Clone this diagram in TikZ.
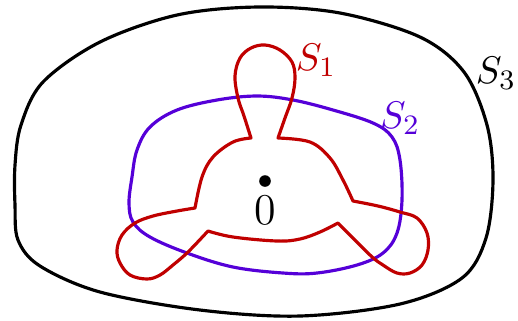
\documentclass[tikz,border=0pt]{standalone}
\usepackage{tikz}
\usetikzlibrary{positioning}
\definecolor{rojocurva}{HTML}{C00000}
\definecolor{azulcurva}{HTML}{5500D8}
\tikzset{
  curva/.style={line width=0.9pt, line join=round},
  etiq/.style={inner sep=1pt, font=\fontsize{11}{13}\selectfont},
  punto/.style={circle, fill=black, inner sep=0pt, minimum size=3.3pt},
}

\begin{document}
\begin{tikzpicture}[x=0.01cm, y=-0.01cm]
    \useasboundingbox (0,0) rectangle (518,320);
    % S3
    \draw[curva, black] plot[smooth cycle, tension=0.55] coordinates {
      (15,205) (15,165) (21,125) (43,82) (100,42) (177,15) (258,7) (340,13)
      (420,37) (464,72) (487,125) (493,180) (486,238) (462,278) (400,304)
      (300,316) (200,310) (100,292) (40,266) (18,240)};
    % S2
    \draw[curva, azulcurva] plot[smooth cycle, tension=0.6] coordinates {
      (257,96) (217,100) (177,110) (150,127) (137,150) (132,177) (129,203)
      (133,222) (150,237) (187,253) (233,267) (283,273) (317,273) (357,265)
      (383,253) (397,233) (402,200) (400,160) (392,137) (373,123) (333,110)
      (293,100)};
    % S1, con esquinas
    \draw[curva, rojocurva]
      plot[smooth, tension=0.6] coordinates {(251,138) (244,116) (238,98) (235,76)
        (240,58) (251,48) (265,45) (280,50) (292,62) (295,78) (292,98) (285,118) (278,138)}
      -- plot[smooth, tension=0.6] coordinates {(278,138) (310,142) (330,158) (343,180) (353,201)}
      -- plot[smooth, tension=0.6] coordinates {(353,201) (378,206) (400,212) (417,218)
        (427,233) (428,250) (422,265) (410,273) (397,273) (383,265) (370,255) (338,223)}
      -- plot[smooth, tension=0.6] coordinates {(338,223) (320,232) (300,239) (277,241)
        (233,237) (208,231)}
      -- plot[smooth, tension=0.6] coordinates {(208,231) (188,252) (173,265) (160,275)
        (147,279) (130,275) (120,263) (117,250) (122,235) (135,223) (153,216)
        (177,211) (195,208)}
      -- plot[smooth, tension=0.6] coordinates {(195,208) (202,177) (213,157) (233,142) (251,138)}
      -- cycle;
    % punto y etiquetas
    \node[punto] (p0) at (265,181) {};
    \node[etiq, below=1pt of p0, font=\fontsize{12.5}{14}\selectfont] (l0) {0};
    \node[etiq, rojocurva] (l1) at (316,60) {$S_1$};
    \node[etiq, azulcurva] (l2) at (400,118) {$S_2$};
    \node[etiq] (l3) at (496,73) {$S_3$};
  \end{tikzpicture}
\end{document}
